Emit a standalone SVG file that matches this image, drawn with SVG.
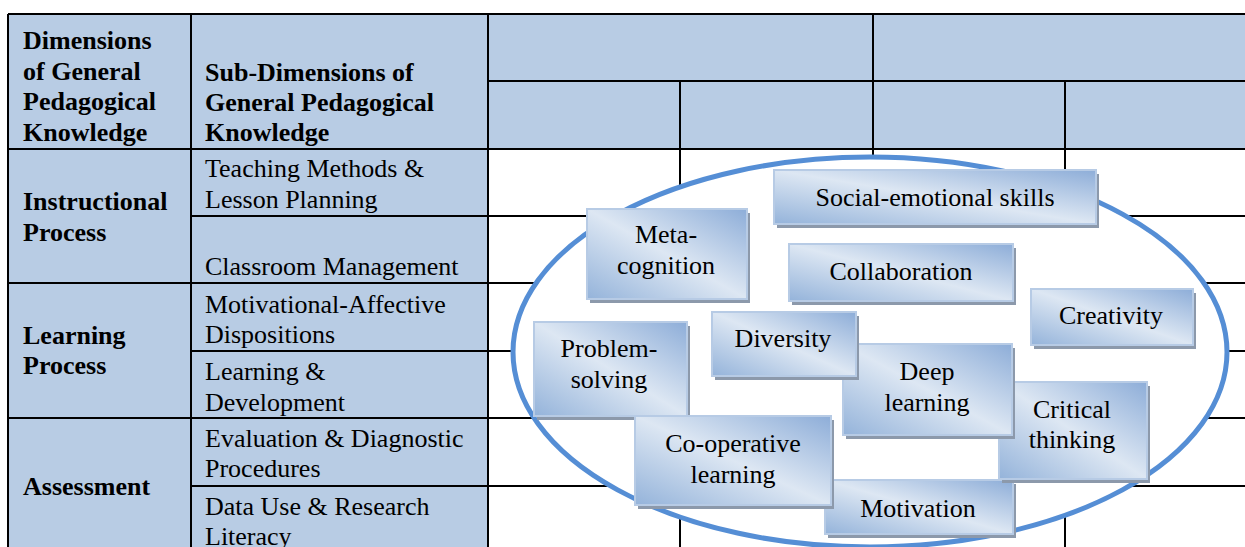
<svg xmlns="http://www.w3.org/2000/svg" width="1245" height="547" viewBox="0 0 1245 547">
<defs>
<linearGradient id="bx" x1="1" y1="0" x2="0" y2="1">
<stop offset="0" stop-color="#8DADD8"/>
<stop offset="0.5" stop-color="#DDE7F3"/>
<stop offset="1" stop-color="#94B3DA"/>
</linearGradient>
</defs>
<style>
.fill{fill:#B8CCE4}
.g{stroke:#000;stroke-width:2;fill:none}
.t{font-family:"Liberation Serif","Times New Roman",serif;font-size:26px;fill:#000}
.b{font-weight:bold}
.bt{font-family:"Liberation Serif","Times New Roman",serif;font-size:26px;fill:#000;text-anchor:middle}
.box{fill:url(#bx);stroke:#B7CBE5;stroke-width:2}
.sh{fill:#8C99AB}
.ell{fill:#fff;stroke:#558ED5;stroke-width:5}
</style>
<rect width="1245" height="547" fill="#fff"/>
<g id="table">
<rect class="fill" x="8" y="14" width="480" height="533"/>
<rect class="fill" x="488" y="14" width="757" height="135"/>
<g class="g">
<path d="M8 14H1245M488 81H1245M8 149H1245M191 216H1245M8 283H1245M191 351H1245M8 418H1245M191 486H1245"/>
<path d="M8 14V547M191 14V547M488 14V547M873 14V547M680 81V547M1065 81V547"/>
</g>
<g class="t b">
<text x="23" y="49">Dimensions</text>
<text x="23" y="80">of General</text>
<text x="23" y="110">Pedagogical</text>
<text x="23" y="141">Knowledge</text>
<text x="205" y="81">Sub-Dimensions of</text>
<text x="205" y="111">General Pedagogical</text>
<text x="205" y="141">Knowledge</text>
<text x="23" y="210">Instructional</text>
<text x="23" y="241">Process</text>
<text x="23" y="344">Learning</text>
<text x="23" y="374">Process</text>
<text x="23" y="495">Assessment</text>
</g>
<g class="t">
<text x="205" y="177">Teaching Methods &amp;</text>
<text x="205" y="208">Lesson Planning</text>
<text x="205" y="275">Classroom Management</text>
<text x="205" y="313">Motivational-Affective</text>
<text x="205" y="343">Dispositions</text>
<text x="205" y="380">Learning &amp;</text>
<text x="205" y="411">Development</text>
<text x="205" y="447">Evaluation &amp; Diagnostic</text>
<text x="205" y="477">Procedures</text>
<text x="205" y="515">Data Use &amp; Research</text>
<text x="205" y="545">Literacy</text>
</g>
</g>
<g id="ellipse">
<ellipse class="ell" cx="870" cy="352" rx="357" ry="195"/>
</g>
<g id="connectors"></g>
<g id="motivation">
<rect class="sh" x="828" y="484" width="188" height="54"/>
<rect class="box" x="825" y="480" width="188" height="54"/>
<text class="bt" x="918" y="517">Motivation</text>
</g>
<g id="critical-thinking">
<rect class="sh" x="1002" y="386" width="148" height="97"/>
<rect class="box" x="999" y="382" width="148" height="97"/>
<text class="bt" x="1072" y="418">Critical</text>
<text class="bt" x="1072" y="448">thinking</text>
</g>
<g id="deep-learning">
<rect class="sh" x="846" y="348" width="169" height="91"/>
<rect class="box" x="843" y="344" width="169" height="91"/>
<text class="bt" x="927" y="380">Deep</text>
<text class="bt" x="927" y="411">learning</text>
</g>
<g id="diversity">
<rect class="sh" x="715" y="316" width="144" height="64"/>
<rect class="box" x="712" y="312" width="144" height="64"/>
<text class="bt" x="783" y="347">Diversity</text>
</g>
<g id="problem-solving">
<rect class="sh" x="537" y="326" width="153" height="94"/>
<rect class="box" x="534" y="322" width="153" height="94"/>
<text class="bt" x="609" y="357">Problem-</text>
<text class="bt" x="609" y="388">solving</text>
</g>
<g id="cooperative-learning">
<rect class="sh" x="638" y="420" width="196" height="89"/>
<rect class="box" x="635" y="416" width="196" height="89"/>
<text class="bt" x="733" y="452">Co-operative</text>
<text class="bt" x="733" y="483">learning</text>
</g>
<g id="metacognition">
<rect class="sh" x="590" y="213" width="160" height="90"/>
<rect class="box" x="587" y="209" width="160" height="90"/>
<text class="bt" x="666" y="243">Meta-</text>
<text class="bt" x="666" y="274">cognition</text>
</g>
<g id="social-emotional">
<rect class="sh" x="777" y="174" width="322" height="54"/>
<rect class="box" x="774" y="170" width="322" height="54"/>
<text class="bt" x="935" y="206">Social-emotional skills</text>
</g>
<g id="collaboration">
<rect class="sh" x="792" y="248" width="224" height="57"/>
<rect class="box" x="789" y="244" width="224" height="57"/>
<text class="bt" x="901" y="280">Collaboration</text>
</g>
<g id="creativity">
<rect class="sh" x="1034" y="293" width="162" height="56"/>
<rect class="box" x="1031" y="289" width="162" height="56"/>
<text class="bt" x="1111" y="324">Creativity</text>
</g>
</svg>
